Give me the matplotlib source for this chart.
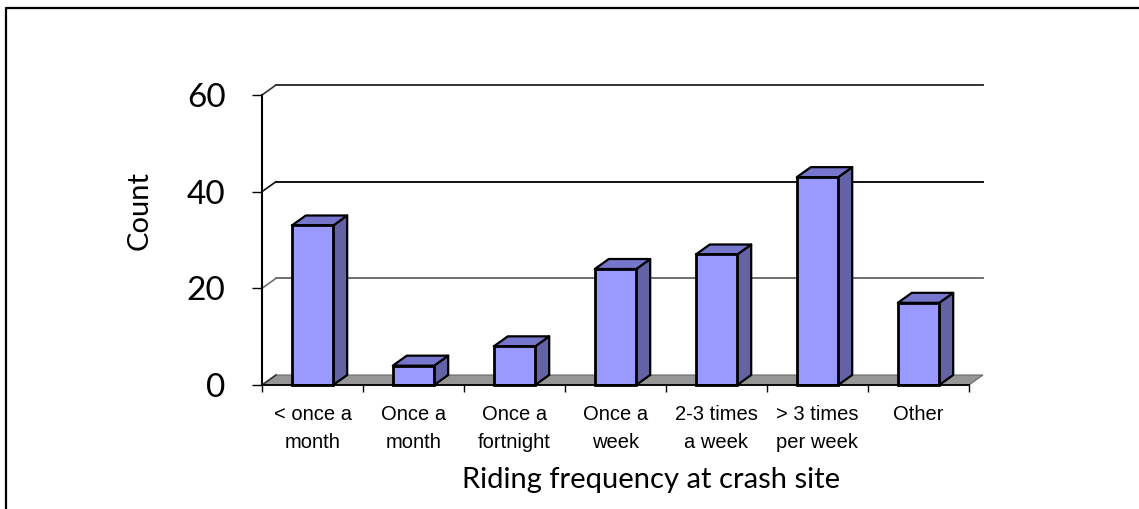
import matplotlib
matplotlib.use("Agg")
import matplotlib.pyplot as plt
from matplotlib.patches import Polygon
from matplotlib.lines import Line2D
import numpy as np

categories = ["< once a\nmonth", "Once a\nmonth", "Once a\nfortnight", "Once a\nweek",
              "2-3 times\na week", "> 3 times\nper week", "Other"]
counts = [33, 4, 8, 24, 27, 43, 17]
y_ticks = [0, 20, 40, 60]
x_label = "Riding frequency at crash site"
y_label = "Count"

W, H = 1139, 509
fig = plt.figure(figsize=(W / 100, H / 100), dpi=100)
L, R, T, B = 262, 969, 95, 385
ax = fig.add_axes([L / W, (H - B) / H, (R - L) / W, (B - T) / H])
n = len(categories)
ax.set_xlim(0, n)
ax.set_ylim(0, 60)
for s in ax.spines.values():
    s.set_visible(False)
ax.patch.set_visible(False)

# depth in data units (14 px, 10 px)
DX = 14 / ((R - L) / n)
DY = 10 / ((B - T) / 60)

# floor
ax.add_patch(Polygon([(0, 0), (n, 0), (n + DX, DY), (DX, DY)], closed=True,
                     facecolor="#969696", edgecolor="#6a6a6a", lw=0.8, clip_on=False, zorder=1))

# back wall gridlines + side diagonals
grid_cols = {20: "#707070", 40: "#111111", 60: "#333333"}
for v in y_ticks[1:]:
    ax.plot([DX, n + DX], [v + DY, v + DY], color=grid_cols[v], lw=1.4, clip_on=False, zorder=1)
for v in y_ticks:
    ax.plot([0, DX], [v, v + DY], color=grid_cols.get(v, "#333333"), lw=1.2, clip_on=False, zorder=1)

# bars
bw = 0.41
xs = np.arange(n) + 0.5
front_c, top_c, side_c = "#9999FF", "#7676CC", "#6262A4"
for i, (x, v) in enumerate(zip(xs, counts)):
    z = 3 + i
    x0, x1 = x - bw / 2, x + bw / 2
    ax.add_patch(Polygon([(x1, 0), (x1 + DX, DY), (x1 + DX, v + DY), (x1, v)], closed=True,
                         facecolor=side_c, edgecolor="black", lw=1.6, clip_on=False, zorder=z,
                         joinstyle="round"))
    ax.add_patch(Polygon([(x0, v), (x1, v), (x1 + DX, v + DY), (x0 + DX, v + DY)], closed=True,
                         facecolor=top_c, edgecolor="black", lw=1.6, clip_on=False, zorder=z,
                         joinstyle="round"))
ax.bar(xs, counts, width=bw, color=front_c, edgecolor="black", lw=2.0, zorder=20, clip_on=False)

# axes lines
ax.plot([0, 0], [0, 60], color="black", lw=1.5, clip_on=False, zorder=30)
ax.plot([0, n], [0, 0], color="black", lw=1.3, clip_on=False, zorder=30)

# ticks
ax.set_yticks(y_ticks)
ax.set_yticklabels([str(t) for t in y_ticks], fontsize=24, family=["Lato", "DejaVu Sans"])
ax.tick_params(axis="y", length=7.2, width=1.0, pad=19, direction="out")
ax.set_xticks(np.arange(n + 1))
ax.set_xticklabels([])
ax.tick_params(axis="x", which="major", length=5, width=1.0, direction="out")
ax.set_xticks(xs, minor=True)
ax.set_xticklabels(categories, minor=True, fontsize=14.5,
                   family=["Liberation Sans Narrow", "Liberation Sans", "DejaVu Sans"],
                   linespacing=1.62)
ax.tick_params(axis="x", which="minor", length=0, pad=14.5)

fig.text(140 / W, (H - 210) / H, y_label, rotation=90, ha="center", va="center",
         fontsize=21, family=["Lato", "DejaVu Sans"])
fig.text(651 / W, (H - 480) / H, x_label, ha="center", va="center",
         fontsize=21, family=["Lato", "DejaVu Sans"])

# outer border
fig.add_artist(Line2D([6 / W, 6 / W, 1.0], [0.0, (H - 7.5) / H, (H - 7.5) / H],
                      transform=fig.transFigure, color="black", lw=1.6))

fig.savefig("out.png", dpi=100)
